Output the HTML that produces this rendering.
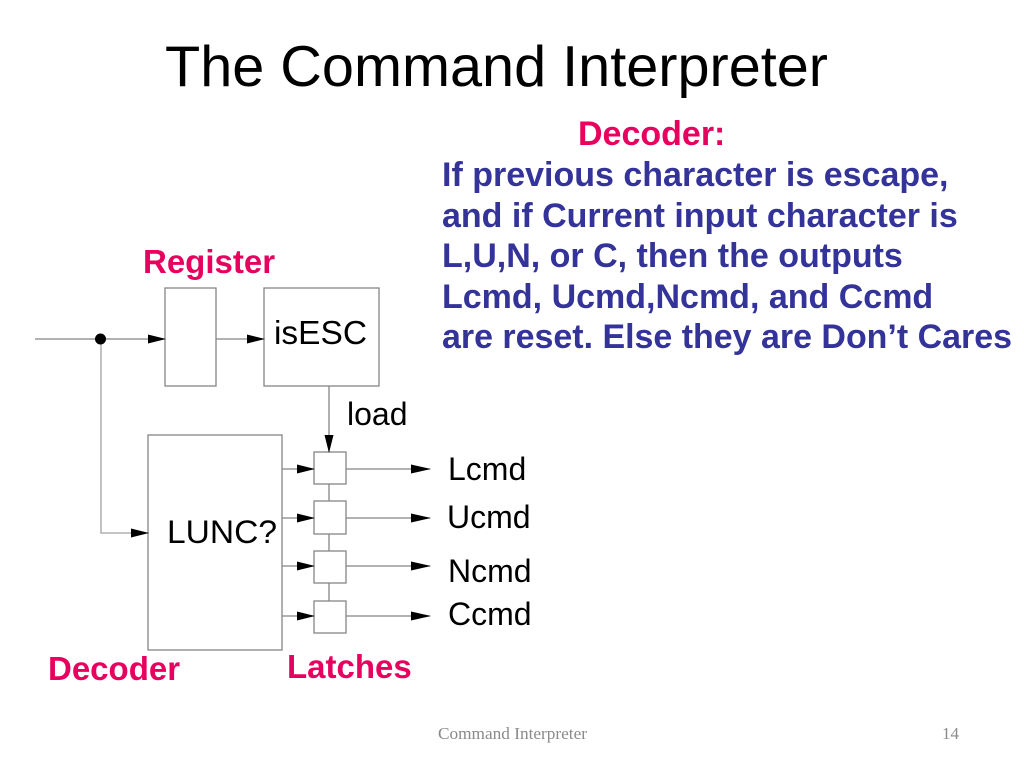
<!DOCTYPE html>
<html>
<head>
<meta charset="utf-8">
<style>
  html, body { margin: 0; padding: 0; background: #ffffff; }
  svg { display: block; }
</style>
</head>
<body>
<svg width="1024" height="768" viewBox="0 0 1024 768" xmlns="http://www.w3.org/2000/svg">
  <rect width="1024" height="768" fill="#ffffff"/>

  <!-- Title -->
  <text x="165" y="86" font-family="Liberation Sans, sans-serif" font-size="57.6" fill="#000" textLength="663" lengthAdjust="spacingAndGlyphs">The Command Interpreter</text>

  <!-- Right description -->
  <text x="578" y="145" font-family="Liberation Sans, sans-serif" font-size="34" font-weight="bold" fill="#E8005F">Decoder:</text>
  <g font-family="Liberation Sans, sans-serif" font-size="34" font-weight="bold" fill="#333399">
    <text x="442" y="186">If previous character is escape,</text>
    <text x="442" y="227">and if Current input character is</text>
    <text x="442" y="267">L,U,N, or C, then the outputs</text>
    <text x="442" y="308">Lcmd, Ucmd,Ncmd, and Ccmd</text>
    <text x="442" y="348" textLength="570" lengthAdjust="spacingAndGlyphs">are reset. Else they are Don’t Cares</text>
  </g>

  <!-- Pink labels -->
  <g font-family="Liberation Sans, sans-serif" font-size="33" font-weight="bold" fill="#E8005F">
    <text x="143" y="273">Register</text>
    <text x="48" y="680">Decoder</text>
    <text x="287" y="678">Latches</text>
  </g>

  <!-- Lines -->
  <g stroke="#858585" stroke-width="1.3" fill="none">
    <!-- input line -->
    <line x1="35" y1="339" x2="165" y2="339"/>
    <!-- register to isESC -->
    <line x1="216" y1="339" x2="264" y2="339"/>
    <!-- branch down to LUNC -->
    <polyline points="101,339 101,533 149,533" stroke="#a0a0a0"/>
    <!-- Register box -->
    <rect x="165" y="288" width="51" height="98"/>
    <!-- isESC box -->
    <rect x="264" y="288" width="115" height="98"/>
    <!-- load line -->
    <line x1="329" y1="386" x2="329" y2="452"/>
    <!-- LUNC box -->
    <rect x="148" y="435" width="134" height="215"/>
    <!-- latches -->
    <rect x="314" y="452" width="32" height="32"/>
    <rect x="314" y="501" width="32" height="33"/>
    <rect x="314" y="551" width="32" height="32"/>
    <rect x="314" y="601" width="32" height="32"/>
    <!-- latch connections -->
    <line x1="329" y1="484" x2="329" y2="501"/>
    <line x1="329" y1="534" x2="329" y2="551"/>
    <line x1="329" y1="583" x2="329" y2="601"/>
    <!-- LUNC to latches -->
    <line x1="282" y1="469" x2="314" y2="469"/>
    <line x1="282" y1="518" x2="314" y2="518"/>
    <line x1="282" y1="566" x2="314" y2="566"/>
    <line x1="282" y1="616" x2="314" y2="616"/>
    <!-- outputs -->
    <line x1="346" y1="469" x2="430" y2="469"/>
    <line x1="346" y1="518" x2="430" y2="518"/>
    <line x1="346" y1="566" x2="430" y2="566"/>
    <line x1="346" y1="616" x2="430" y2="616"/>
  </g>

  <!-- Junction dot -->
  <circle cx="100.5" cy="339" r="5.5" fill="#000"/>

  <!-- Arrowheads -->
  <g fill="#000">
    <polygon points="148,334.5 166,339 148,343.5"/>
    <polygon points="247,334.5 265,339 247,343.5"/>
    <polygon points="131,528.5 149,533 131,537.5"/>
    <polygon points="324.5,435 329,453 333.5,435"/>
    <polygon points="297,464.5 315,469 297,473.5"/>
    <polygon points="297,513.5 315,518 297,522.5"/>
    <polygon points="297,561.5 315,566 297,570.5"/>
    <polygon points="297,611.5 315,616 297,620.5"/>
    <polygon points="411,464.5 431,469 411,473.5"/>
    <polygon points="411,513.5 431,518 411,522.5"/>
    <polygon points="411,561.5 431,566 411,570.5"/>
    <polygon points="411,611.5 431,616 411,620.5"/>
  </g>

  <!-- Diagram text -->
  <g font-family="Liberation Sans, sans-serif" fill="#000">
    <text x="274" y="344" font-size="33" textLength="93" lengthAdjust="spacingAndGlyphs">isESC</text>
    <text x="347" y="425" font-size="32">load</text>
    <text x="167" y="543" font-size="32" textLength="110" lengthAdjust="spacingAndGlyphs">LUNC?</text>
    <text x="448" y="480" font-size="32">Lcmd</text>
    <text x="447" y="528" font-size="32">Ucmd</text>
    <text x="448" y="582" font-size="32">Ncmd</text>
    <text x="448" y="625" font-size="32">Ccmd</text>
  </g>

  <!-- Footer -->
  <text x="438" y="739" font-family="Liberation Serif, serif" font-size="17" fill="#8a8a8a" textLength="149" lengthAdjust="spacingAndGlyphs">Command Interpreter</text>
  <text x="942" y="739" font-family="Liberation Serif, serif" font-size="17" fill="#8a8a8a">14</text>
</svg>
</body>
</html>
